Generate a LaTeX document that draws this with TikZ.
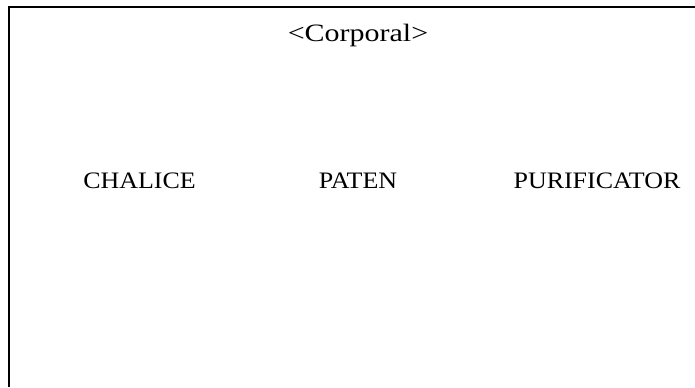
\documentclass[tikz,border=0pt]{standalone}
\usepackage{fontspec}
\setmainfont{Liberation Serif}
\usepackage{tikz}
\usetikzlibrary{positioning}
\newcommand{\widen}[2]{\scalebox{#1}[1]{#2}}
\tikzset{
	item/.style={inner sep=0pt, anchor=base, font=\fontsize{23.6bp}{28bp}\selectfont},
	heading/.style={inner sep=0pt, anchor=base, font=\fontsize{25bp}{30bp}\selectfont},
	frame/.style={line width=1.6bp, black}
}

\begin{document}
\begin{tikzpicture}[x=1bp, y=-1bp]
			\useasboundingbox (0,0) rectangle (695,387);
			\coordinate (topright) at (695,7);
			\coordinate (corner) at (9,7);
			\coordinate (bottomleft) at (9,387);
			\draw[frame] (topright) -- (corner) -- (bottomleft);
			\node[heading] (corporal) at (358,41) {\widen{1.2}{<Corporal>}};
			\node[item] (chalice) at (139.5,188) {\widen{1.1}{CHALICE}};
			\node[item] (paten) at (358,188) {\widen{1.1}{PATEN}};
			\node[item] (purificator) at (597,188) {\widen{1.1}{PURIFICATOR}};
		\end{tikzpicture}
\end{document}
